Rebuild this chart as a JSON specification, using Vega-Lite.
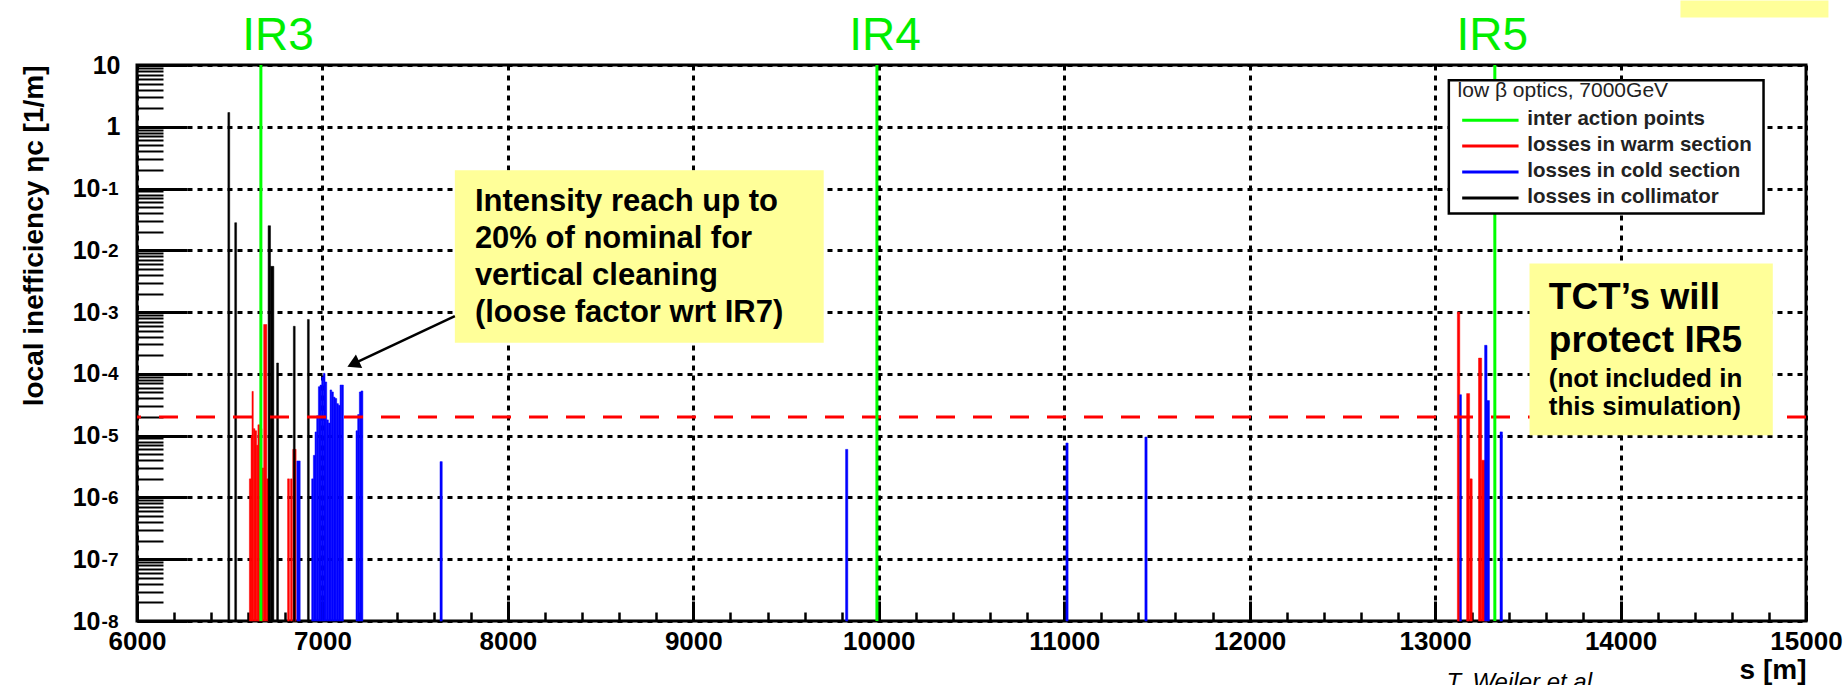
{
  "$schema": "https://vega.github.io/schema/vega-lite/v6.json",
  "width": 1669,
  "height": 556,
  "autosize": {"type": "none"},
  "padding": {"left": 137, "top": 65, "right": 39, "bottom": 64},
  "background": "white",
  "config": {
    "font": "Liberation Sans",
    "view": {"stroke": "black", "strokeWidth": 3},
    "axis": {"labelFlush": false, "labelOverlap": false, "domain": false, "labelColor": "black", "titleColor": "black", "labelFont": "Liberation Sans", "titleFont": "Liberation Sans"}
  },
  "datasets": {
    "ir": [
      {"s": 6668, "type": "inter action points"},
      {"s": 9990, "type": "inter action points"},
      {"s": 13322, "type": "inter action points"}
    ],
    "bars": [
      {"s0": 6606, "s1": 6615, "v": 2e-6, "type": "losses in warm section"},
      {"s0": 6615, "s1": 6620, "v": 1.0e-5, "type": "losses in warm section"},
      {"s0": 6620, "s1": 6627, "v": 5.2e-5, "type": "losses in warm section"},
      {"s0": 6627, "s1": 6636, "v": 1.3e-5, "type": "losses in warm section"},
      {"s0": 6636, "s1": 6645, "v": 1.2e-5, "type": "losses in warm section"},
      {"s0": 6645, "s1": 6652, "v": 7e-6, "type": "losses in warm section"},
      {"s0": 6652, "s1": 6662, "v": 1.5e-5, "type": "losses in warm section"},
      {"s0": 6662, "s1": 6674, "v": 1.3e-5, "type": "losses in warm section"},
      {"s0": 6674, "s1": 6683, "v": 3e-6, "type": "losses in warm section"},
      {"s0": 6683, "s1": 6700, "v": 6.3e-4, "type": "losses in warm section"},
      {"s0": 6700, "s1": 6712, "v": 2e-6, "type": "losses in warm section"},
      {"s0": 6812, "s1": 6822, "v": 2e-6, "type": "losses in warm section"},
      {"s0": 6828, "s1": 6836, "v": 2e-6, "type": "losses in warm section"},
      {"s0": 6840, "s1": 6858, "v": 6e-6, "type": "losses in warm section"},
      {"s0": 13120, "s1": 13133, "v": 1.0e-3, "type": "losses in warm section"},
      {"s0": 13170, "s1": 13186, "v": 4.8e-5, "type": "losses in warm section"},
      {"s0": 13188, "s1": 13200, "v": 2e-6, "type": "losses in warm section"},
      {"s0": 13234, "s1": 13251, "v": 1.8e-4, "type": "losses in warm section"},
      {"s0": 13251, "s1": 13280, "v": 4e-6, "type": "losses in warm section"},
      {"s0": 6862, "s1": 6880, "v": 3.9e-6, "type": "losses in cold section"},
      {"s0": 6942, "s1": 6951, "v": 2.0e-6, "type": "losses in cold section"},
      {"s0": 6951, "s1": 6960, "v": 4.8e-6, "type": "losses in cold section"},
      {"s0": 6960, "s1": 6969, "v": 1.15e-5, "type": "losses in cold section"},
      {"s0": 6969, "s1": 6978, "v": 2.1e-5, "type": "losses in cold section"},
      {"s0": 6978, "s1": 6987, "v": 6.2e-5, "type": "losses in cold section"},
      {"s0": 6987, "s1": 6996, "v": 6.6e-5, "type": "losses in cold section"},
      {"s0": 6996, "s1": 7005, "v": 8.9e-5, "type": "losses in cold section"},
      {"s0": 7005, "s1": 7014, "v": 1.02e-4, "type": "losses in cold section"},
      {"s0": 7014, "s1": 7023, "v": 7.4e-5, "type": "losses in cold section"},
      {"s0": 7023, "s1": 7032, "v": 1.8e-5, "type": "losses in cold section"},
      {"s0": 7032, "s1": 7041, "v": 1.6e-5, "type": "losses in cold section"},
      {"s0": 7041, "s1": 7050, "v": 5.5e-5, "type": "losses in cold section"},
      {"s0": 7050, "s1": 7059, "v": 5.1e-5, "type": "losses in cold section"},
      {"s0": 7059, "s1": 7068, "v": 4.2e-5, "type": "losses in cold section"},
      {"s0": 7068, "s1": 7077, "v": 4.0e-5, "type": "losses in cold section"},
      {"s0": 7077, "s1": 7086, "v": 3.3e-5, "type": "losses in cold section"},
      {"s0": 7086, "s1": 7095, "v": 3.1e-5, "type": "losses in cold section"},
      {"s0": 7095, "s1": 7104, "v": 6.6e-5, "type": "losses in cold section"},
      {"s0": 7104, "s1": 7113, "v": 6.6e-5, "type": "losses in cold section"},
      {"s0": 7181, "s1": 7190, "v": 1.2e-5, "type": "losses in cold section"},
      {"s0": 7190, "s1": 7199, "v": 2.2e-5, "type": "losses in cold section"},
      {"s0": 7199, "s1": 7208, "v": 5.1e-5, "type": "losses in cold section"},
      {"s0": 7208, "s1": 7218, "v": 5.3e-5, "type": "losses in cold section"},
      {"s0": 7634, "s1": 7646, "v": 3.8e-6, "type": "losses in cold section"},
      {"s0": 9821, "s1": 9833, "v": 6.0e-6, "type": "losses in cold section"},
      {"s0": 11009, "s1": 11021, "v": 7.6e-6, "type": "losses in cold section"},
      {"s0": 11435, "s1": 11447, "v": 9.5e-6, "type": "losses in cold section"},
      {"s0": 13133, "s1": 13142, "v": 4.6e-5, "type": "losses in cold section"},
      {"s0": 13267, "s1": 13280, "v": 2.9e-4, "type": "losses in cold section"},
      {"s0": 13280, "s1": 13293, "v": 3.7e-5, "type": "losses in cold section"},
      {"s0": 13350, "s1": 13363, "v": 1.15e-5, "type": "losses in cold section"},
      {"s0": 6490, "s1": 6500, "v": 1.7, "type": "losses in collimator"},
      {"s0": 6527, "s1": 6537, "v": 0.028, "type": "losses in collimator"},
      {"s0": 6707, "s1": 6720, "v": 0.025, "type": "losses in collimator"},
      {"s0": 6720, "s1": 6738, "v": 0.0055, "type": "losses in collimator"},
      {"s0": 6753, "s1": 6763, "v": 1.5e-4, "type": "losses in collimator"},
      {"s0": 6843, "s1": 6853, "v": 5.9e-4, "type": "losses in collimator"},
      {"s0": 6919, "s1": 6929, "v": 7.6e-4, "type": "losses in collimator"}
    ],
    "legend": [
      {"type": "inter action points", "v": 1.27},
      {"type": "losses in warm section", "v": 0.489},
      {"type": "losses in cold section", "v": 0.186},
      {"type": "losses in collimator", "v": 0.0705}
    ]
  },
  "resolve": {"axis": {"x": "independent", "y": "independent"}},
  "layer": [
    {
      "data": {"name": "bars"},
      "mark": {"type": "rect", "strokeWidth": 0.5},
      "encoding": {
        "x": {"field": "s0", "type": "quantitative", "scale": {"domain": [6000, 15000], "nice": false, "zero": false}, "axis": {"orient": "bottom", "values": [6000, 7000, 8000, 9000, 10000, 11000, 12000, 13000, 14000, 15000], "grid": true, "gridColor": "black", "gridDash": [5, 5], "gridWidth": 3, "gridOpacity": 1, "ticks": true, "tickSize": -20, "tickWidth": 3, "tickColor": "black", "labels": false, "domain": false, "title": null}},
        "x2": {"field": "s1"},
        "y": {"field": "v", "type": "quantitative", "scale": {"type": "log", "domain": [1e-8, 10], "nice": false}, "axis": {"orient": "left", "values": [1e-8, 1e-7, 1e-6, 1e-5, 1e-4, 0.001, 0.01, 0.1, 1, 10], "grid": true, "gridColor": "black", "gridDash": [5, 5], "gridWidth": 3, "gridOpacity": 1, "ticks": true, "tickSize": -50, "tickWidth": 3, "tickColor": "black", "labels": false, "domain": false, "title": null}},
        "y2": {"datum": 1e-8},
        "color": {"field": "type", "type": "nominal", "scale": {"domain": ["inter action points", "losses in warm section", "losses in cold section", "losses in collimator"], "range": ["#00ff00", "#ff0000", "#0000ff", "#000000"]}, "legend": null},
        "stroke": {"field": "type", "type": "nominal", "scale": {"domain": ["inter action points", "losses in warm section", "losses in cold section", "losses in collimator"], "range": ["#00ff00", "#ff0000", "#0000ff", "#000000"]}, "legend": null}
      }
    },
    {
      "data": {"values": [{"v": 2e-5}]},
      "mark": {"type": "rule", "color": "#ff0000", "strokeWidth": 3, "strokeDash": [19, 18]},
      "encoding": {"y": {"field": "v", "type": "quantitative", "axis": null}}
    },
    {
      "data": {"name": "ir"},
      "mark": {"type": "rule", "strokeWidth": 3},
      "encoding": {
        "x": {"field": "s", "type": "quantitative", "axis": null},
        "color": {"field": "type", "type": "nominal", "legend": null}
      }
    },
    {
      "data": {"values": [
        {"x0": 7714, "x1": 9703, "y0": 3.18e-4, "y1": 0.198},
        {"x0": 13509, "x1": 14821, "y0": 1.02e-5, "y1": 6.1e-3},
        {"x0": 14323, "x1": 15121, "y0": 58.5, "y1": 111}
      ]},
      "mark": {"type": "rect", "fill": "#ffff99"},
      "encoding": {
        "x": {"field": "x0", "type": "quantitative", "axis": {"orient": "bottom", "values": [6200, 6400, 6600, 6800, 7200, 7400, 7600, 7800, 8200, 8400, 8600, 8800, 9200, 9400, 9600, 9800, 10200, 10400, 10600, 10800, 11200, 11400, 11600, 11800, 12200, 12400, 12600, 12800, 13200, 13400, 13600, 13800, 14200, 14400, 14600, 14800], "grid": false, "ticks": true, "tickSize": -9, "tickWidth": 2.5, "tickColor": "black", "labels": false, "domain": false, "title": null}},
        "x2": {"field": "x1"},
        "y": {"field": "y0", "type": "quantitative", "axis": {"orient": "left", "values": [2e-8, 3e-8, 4e-8, 5e-8, 6e-8, 7e-8, 8e-8, 9e-8, 2e-7, 3e-7, 4e-7, 5e-7, 6e-7, 7e-7, 8e-7, 9e-7, 2e-6, 3e-6, 4e-6, 5e-6, 6e-6, 7e-6, 8e-6, 9e-6, 2e-5, 3e-5, 4e-5, 5e-5, 6e-5, 7e-5, 8e-5, 9e-5, 2e-4, 3e-4, 4e-4, 5e-4, 6e-4, 7e-4, 8e-4, 9e-4, 0.002, 0.003, 0.004, 0.005, 0.006, 0.007, 0.008, 0.009, 0.02, 0.03, 0.04, 0.05, 0.06, 0.07, 0.08, 0.09, 0.2, 0.3, 0.4, 0.5, 0.6, 0.7, 0.8, 0.9, 2, 3, 4, 5, 6, 7, 8, 9], "grid": false, "ticks": true, "tickSize": -26, "tickWidth": 2, "tickColor": "black", "labels": false, "domain": false, "title": null}},
        "y2": {"field": "y1"}
      }
    },
    {
      "data": {"values": [{"x0": 13074, "x1": 14771, "y0": 0.0394, "y1": 5.65}]},
      "mark": {"type": "rect", "fill": "white", "stroke": "black", "strokeWidth": 2.5},
      "encoding": {
        "x": {"field": "x0", "type": "quantitative", "axis": null},
        "x2": {"field": "x1"},
        "y": {"field": "y0", "type": "quantitative", "axis": null},
        "y2": {"field": "y1"}
      }
    },
    {
      "data": {"name": "legend"},
      "mark": {"type": "rule", "strokeWidth": 3},
      "encoding": {
        "x": {"datum": 13146, "type": "quantitative", "axis": null},
        "x2": {"datum": 13450},
        "y": {"field": "v", "type": "quantitative", "axis": null},
        "color": {"field": "type", "type": "nominal", "legend": null}
      }
    },
    {
      "data": {"name": "legend"},
      "mark": {"type": "text", "align": "left", "baseline": "alphabetic", "dy": 5, "fontSize": 20.5, "fontWeight": "bold", "color": "#222222", "font": "Liberation Sans"},
      "encoding": {
        "x": {"datum": 13497, "type": "quantitative", "axis": null},
        "y": {"field": "v", "type": "quantitative", "axis": null},
        "text": {"field": "type"}
      }
    },
    {
      "data": {"values": [{"s": 13121, "v": 3.03, "note": "low β optics, 7000GeV"}]},
      "mark": {"type": "text", "align": "left", "baseline": "alphabetic", "fontSize": 21, "color": "#222222", "font": "Liberation Sans"},
      "encoding": {
        "x": {"field": "s", "type": "quantitative", "axis": null},
        "y": {"field": "v", "type": "quantitative", "axis": null},
        "text": {"field": "note"}
      }
    },
    {
      "data": {"values": [{"xa": 7714, "ya": 8.6e-4, "xb": 7166, "yb": 1.45e-4}]},
      "mark": {"type": "rule", "color": "black", "strokeWidth": 2.5},
      "encoding": {
        "x": {"field": "xa", "type": "quantitative", "axis": null},
        "y": {"field": "ya", "type": "quantitative", "axis": null},
        "x2": {"field": "xb"},
        "y2": {"field": "yb"}
      }
    },
    {
      "data": {"values": [{"xb": 7166, "yb": 1.45e-4}]},
      "mark": {"type": "point", "shape": "triangle-up", "filled": true, "color": "black", "opacity": 1, "size": 220, "angle": 245},
      "encoding": {
        "x": {"field": "xb", "type": "quantitative", "axis": null},
        "y": {"field": "yb", "type": "quantitative", "axis": null}
      }
    },
    {
      "data": {"values": [{"s": 7822, "v": 0.0434, "note": "Intensity reach up to\n20% of nominal for\nvertical cleaning\n(loose factor wrt IR7)"}]},
      "mark": {"type": "text", "align": "left", "baseline": "alphabetic", "fontSize": 31, "fontWeight": "bold", "lineBreak": "\n", "lineHeight": 37, "color": "black", "font": "Liberation Sans"},
      "encoding": {
        "x": {"field": "s", "type": "quantitative", "axis": {"orient": "bottom", "values": [6000, 7000, 8000, 9000, 10000, 11000, 12000, 13000, 14000, 15000], "format": "d", "grid": false, "ticks": false, "tickSize": 0, "labels": true, "labelFontSize": 26, "labelFontWeight": "bold", "labelPadding": 7, "domain": false, "title": "s [m]", "titleAnchor": "end", "titleFontSize": 28, "titleFontWeight": "bold", "titlePadding": 2}},
        "y": {"field": "v", "type": "quantitative", "axis": {"orient": "left", "values": [1, 10], "grid": false, "ticks": false, "tickSize": 0, "labels": true, "labelExpr": "datum.value >= 5 ? '10' : '1'", "labelFontSize": 25, "labelFontWeight": "bold", "labelPadding": 17, "labelBaseline": "middle", "domain": false, "title": null}},
        "text": {"field": "note"}
      }
    },
    {
      "data": {"values": [{"s": 13613, "v": 1.14e-3, "note": "TCT’s will\nprotect IR5"}]},
      "mark": {"type": "text", "align": "left", "baseline": "alphabetic", "fontSize": 37, "fontWeight": "bold", "lineBreak": "\n", "lineHeight": 43.3, "color": "black", "font": "Liberation Sans"},
      "encoding": {
        "x": {"field": "s", "type": "quantitative", "axis": null},
        "y": {"field": "v", "type": "quantitative", "axis": {"orient": "left", "values": [1e-8, 1e-7, 1e-6, 1e-5, 1e-4, 0.001, 0.01, 0.1], "grid": false, "ticks": false, "tickSize": 0, "labels": true, "labelExpr": "'10'", "labelFontSize": 25, "labelFontWeight": "bold", "labelPadding": 37, "labelBaseline": "middle", "labelDy": 4, "domain": false, "title": "local inefficiency ηc [1/m]", "titleAnchor": "end", "titleFontSize": 28, "titleFontWeight": "bold", "titlePadding": 24}},
        "text": {"field": "note"}
      }
    },
    {
      "data": {"values": [{"s": 13613, "v": 6.17e-5, "note": "(not included in\nthis simulation)"}]},
      "mark": {"type": "text", "align": "left", "baseline": "alphabetic", "fontSize": 26, "fontWeight": "bold", "lineBreak": "\n", "lineHeight": 28.3, "color": "black", "font": "Liberation Sans"},
      "encoding": {
        "x": {"field": "s", "type": "quantitative", "axis": null},
        "y": {"field": "v", "type": "quantitative", "axis": {"orient": "left", "values": [1e-8, 1e-7, 1e-6, 1e-5, 1e-4, 0.001, 0.01, 0.1], "grid": false, "ticks": false, "tickSize": 0, "labels": true, "labelExpr": "'-' + round(-log(datum.value)/LN10)", "labelFontSize": 19, "labelFontWeight": "bold", "labelPadding": 19, "labelBaseline": "middle", "labelDy": -8, "domain": false, "title": null}},
        "text": {"field": "note"}
      }
    },
    {
      "data": {"values": [
        {"ls": 6760, "v": 17.3, "label": "IR3"},
        {"ls": 10034, "v": 17.3, "label": "IR4"},
        {"ls": 13308, "v": 17.3, "label": "IR5"}
      ]},
      "mark": {"type": "text", "align": "center", "baseline": "alphabetic", "fontSize": 46, "color": "#00ee00", "font": "Liberation Sans"},
      "encoding": {
        "x": {"field": "ls", "type": "quantitative", "axis": null},
        "y": {"field": "v", "type": "quantitative", "axis": null},
        "text": {"field": "label"}
      }
    },
    {
      "data": {"values": [{"s": 13062, "v": 7.6e-10, "note": "T. Weiler et al."}]},
      "mark": {"type": "text", "align": "left", "baseline": "alphabetic", "fontSize": 24, "fontStyle": "italic", "color": "black", "font": "Liberation Sans"},
      "encoding": {
        "x": {"field": "s", "type": "quantitative", "axis": null},
        "y": {"field": "v", "type": "quantitative", "axis": null},
        "text": {"field": "note"}
      }
    }
  ]
}
